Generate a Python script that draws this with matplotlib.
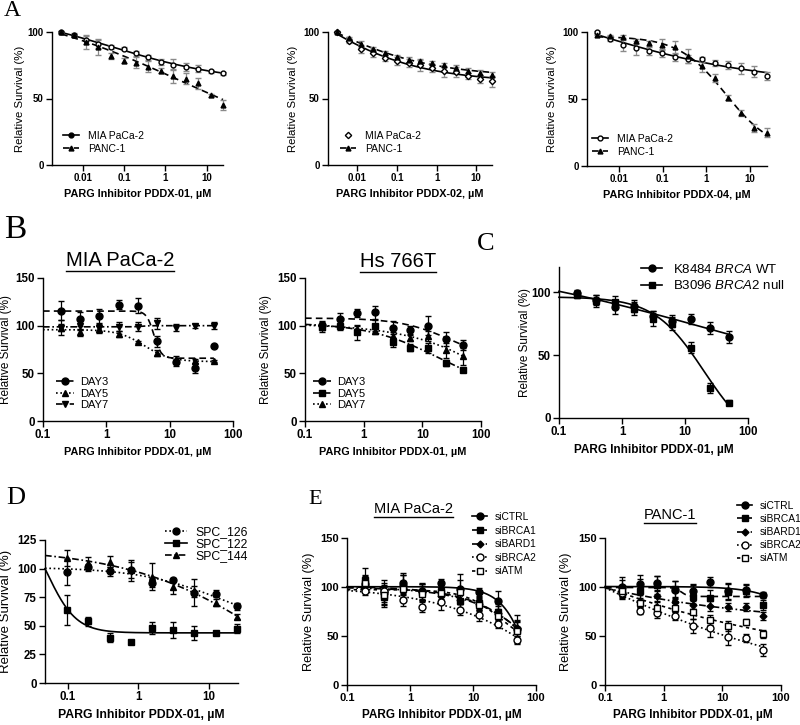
import numpy as np
import matplotlib
matplotlib.use('Agg')
import matplotlib.pyplot as plt
from matplotlib.lines import Line2D
from matplotlib.ticker import NullLocator

plt.rcParams['font.family'] = ['Liberation Sans', 'DejaVu Sans']
plt.rcParams['mathtext.fontset'] = 'custom'
plt.rcParams['mathtext.rm'] = 'Liberation Sans'
plt.rcParams['mathtext.it'] = 'Liberation Sans:italic'

# ---------------- data ----------------
# panel A doses (uM)
doses_a = [0.003, 0.006, 0.012, 0.024, 0.049, 0.098, 0.195, 0.39, 0.78, 1.56, 3.125, 6.25, 12.5, 25]
mia_a1 = [100, 97.5, 94, 91, 89, 87.5, 84, 81, 77.5, 75.5, 74, 72.5, 70.5, 69]
mia_a1_err = [0.5, 1, 3, 3, 1.5, 1, 2, 2, 2, 4, 3, 2.5, 1, 1]
panc_a1 = [100, 98, 92.5, 89, 82, 78.5, 77, 74, 71, 67, 65, 61.5, 52.5, 45]
panc_a1_err = [0.5, 1, 5, 6, 2, 2, 4, 4, 2, 5, 4, 4, 1, 4]
mia_a2 = [100, 93.5, 87, 84, 80.5, 78, 76.5, 75, 73, 70.5, 70, 67, 65, 63]
mia_a2_err = [0.5, 1.5, 3, 3, 2, 3, 3, 4, 3, 4, 4, 2, 3, 4]
panc_a2 = [100, 95.5, 91, 87, 84, 81, 79, 78, 77, 75.5, 73, 71, 69.5, 68]
panc_a2_err = [0.5, 1, 2, 2, 2, 2, 2, 2, 1.5, 1.5, 2, 2, 2, 2]
mia_a3 = [100, 95, 90.5, 88, 86, 84, 81.5, 79.5, 79.5, 77, 75.5, 73, 70.5, 67]
mia_a3_err = [0.5, 2, 5, 5, 3, 3, 3, 3, 2, 2, 3, 4, 4, 3]
panc_a3 = [98, 97, 96, 93, 91.5, 90.5, 88.5, 82, 74.5, 66, 51, 39.5, 28.5, 25]
panc_a3_err = [0.5, 1, 2, 2, 2, 4, 5, 5, 4, 3, 2, 2, 3, 3]

# panels B, C, E doses
doses_b = [0.195, 0.39, 0.78, 1.56, 3.125, 6.25, 12.5, 25, 50]
day3_b1 = [115.5, 107, 110, 122, 121, 83.5, 61.5, 55.5, 79]
day3_b1_err = [10, 7, 8, 5, 8, 6, 4, 5, 1]
day5_b1 = [98, 93, 96, 91, 83, 71, 65, 63, 63]
day5_b1_err = [4, 4, 4, 3, 1, 3, 3, 2, 1]
day7_b1 = [98, 100, 98, 99, 99, 102.5, 98, 99.5, 100]
day7_b1_err = [8, 5, 5, 5, 5, 6, 4, 2, 4]

day3_b2 = [101, 107, 113, 114, 98, 95, 100, 86, 79.5]
day3_b2_err = [3, 6, 4, 7, 7, 5, 10, 7, 5]
day5_b2 = [99, 100, 93, 100, 82.5, 77, 76.5, 61, 54]
day5_b2_err = [6, 5, 8, 6, 5, 4, 5, 3, 2]
day7_b2 = [99, 102, 97, 94, 89.5, 87.5, 89, 74, 68]
day7_b2_err = [3, 3, 3, 3, 4, 4, 5, 8, 9]

wt_c = [99, 94, 88, 89, 81, 77, 79, 71.5, 64.5]
wt_c_err = [3, 4, 5, 5, 4, 5, 4, 5, 5]
null_c = [98, 93, 92, 87, 79, 75, 56, 24, 12]
null_c_err = [3, 5, 5, 5, 6, 5, 4, 4, 2]

# panel D doses
doses_d = [0.098, 0.195, 0.39, 0.78, 1.56, 3.125, 6.25, 12.5, 25]
spc126 = [97, 101, 97.5, 99, 87.5, 90, 79, 78, 67]
spc126_err = [11, 3, 4, 7, 4, 2, 12, 3, 3]
spc122 = [63.5, 54, 39.5, 36, 48, 46.5, 44, 43.5, 47.5]
spc122_err = [13, 4, 4, 2, 5, 7, 6, 1, 4]
spc144 = [109, 105, 106, 98.5, 93, 84, 80, 70, 58]
spc144_err = [7, 5, 5, 9, 12, 6, 5, 3, 2]

# panel E
ctrl_e1 = [103, 95, 104, 96, 104, 98, 95, 86, 57]
ctrl_e1_err = [8, 12, 10, 8, 4, 15, 4, 10, 14]
brca1_e1 = [107, 90, 100, 95, 96, 86, 84, 75, 56]
brca1_e1_err = [12, 10, 12, 8, 6, 8, 6, 8, 8]
bard1_e1 = [101, 93, 102, 95, 91, 87, 83, 73, 58]
bard1_e1_err = [6, 8, 10, 8, 6, 8, 6, 8, 8]
brca2_e1 = [96, 96, 87, 80, 85, 77, 71, 62, 46]
brca2_e1_err = [4, 8, 6, 6, 8, 6, 6, 4, 4]
atm_e1 = [104, 92, 98, 93, 94, 95, 82, 70, 55]
atm_e1_err = [8, 10, 8, 8, 6, 12, 6, 8, 10]

ctrl_e2 = [100, 103, 104, 97, 96, 105, 96, 97, 92]
ctrl_e2_err = [10, 9, 7, 9, 7, 5, 8, 6, 3]
brca1_e2 = [99, 96, 102, 98, 90, 89, 95, 96, 82]
brca1_e2_err = [8, 12, 9, 8, 12, 8, 8, 6, 5]
bard1_e2 = [93, 86, 91, 85, 82, 81, 80, 80, 70]
bard1_e2_err = [5, 6, 5, 4, 4, 5, 4, 4, 4]
brca2_e2 = [94, 76, 73, 70, 60, 58, 49, 48, 36]
brca2_e2_err = [5, 4, 5, 4, 7, 9, 8, 4, 6]
atm_e2 = [96, 84, 79, 79, 75, 66, 60, 64, 52]
atm_e2_err = [5, 5, 6, 5, 8, 5, 5, 3, 4]

XLAB = 'PARG Inhibitor PDDX-%s, \u00b5M'
YLAB = 'Relative Survival (%)'

# ---------------- helpers ----------------
W, H = 800, 725
fig = plt.figure(figsize=(8, 7.25), dpi=100)


def box(l, t, r, b):
    return [l / W, 1 - b / H, (r - l) / W, (b - t) / H]


LOGEC = np.linspace(-4, 4, 161)
HILL = np.linspace(0.2, 8, 79)


def hill(x, top, bottom, ec50, h):
    return bottom + (top - bottom) / (1 + (x / ec50) ** h)


def fit_hill(x, y, top=None, anchor=None):
    # grid search over ec50/hill, linear least squares for top/bottom
    x = list(x)
    y = list(y)
    if anchor is not None:
        # untreated control (100 %) placed at the axis start, weighted
        x += [anchor[0]] * anchor[2]
        y += [anchor[1]] * anchor[2]
    x = np.asarray(x, float)
    y = np.asarray(y, float)
    le, hh = [g.ravel() for g in np.meshgrid(LOGEC, HILL)]
    s = 1.0 / (1.0 + (x[None, :] / 10.0 ** le[:, None]) ** hh[:, None])
    u = 1.0 - s
    if top is None:
        saa = (s * s).sum(1); sbb = (u * u).sum(1); sab = (s * u).sum(1)
        say = (s * y).sum(1); sby = (u * y).sum(1)
        det = saa * sbb - sab ** 2
        ok = det > 1e-9
        det = np.where(ok, det, 1)
        t = (say * sbb - sby * sab) / det
        b = (sby * saa - say * sab) / det
    else:
        sbb = (u * u).sum(1)
        ok = sbb > 1e-9
        t = np.full_like(le, top)
        b = ((y - top * s) * u).sum(1) / np.where(ok, sbb, 1)
    ok &= (np.abs(t) < 250) & (np.abs(b) < 250)
    sse = (((t[:, None] * s + b[:, None] * u) - y) ** 2).sum(1)
    sse = np.where(ok, sse, np.inf)
    i = np.argmin(sse)
    return t[i], b[i], 10 ** le[i], hh[i]


def setup(ax, xlim, xticks, xlabels, ylim, yticks, drug, tfs, xfs, yfs, ylx):
    ax.set_xscale('log')
    ax.set_xlim(xlim)
    ax.set_ylim(ylim)
    ax.set_xticks(xticks)
    ax.set_xticklabels(xlabels)
    ax.xaxis.set_minor_locator(NullLocator())
    ax.set_yticks(yticks)
    for s in ['top', 'right']:
        ax.spines[s].set_visible(False)
    for s in ['left', 'bottom']:
        ax.spines[s].set_linewidth(1.0)
    ax.tick_params(direction='out', length=4, width=1, labelsize=tfs, pad=2)
    for lbl in ax.get_xticklabels() + ax.get_yticklabels():
        lbl.set_fontweight('bold')
    ax.set_xlabel(XLAB % drug, fontsize=xfs, fontweight='bold', labelpad=4)
    ax.set_ylabel(YLAB, fontsize=yfs)
    ax.yaxis.set_label_coords(ylx, 0.5)


def series(ax, x, y, e, marker, mfc, ls, x0, ms=5, ecolor='k', top=None,
           anchor=None, lw=1.2):
    ax.errorbar(x, y, yerr=e, fmt=marker, ms=ms, mfc=mfc, mec='k', mew=1.0,
                color='k', ecolor=ecolor, elinewidth=0.9, capsize=2.2,
                capthick=0.9, clip_on=False, zorder=3)
    if ls is None:
        return
    p = fit_hill(x, y, top, anchor)
    xx = np.logspace(np.log10(x0), np.log10(x[-1]), 300)
    ax.plot(xx, hill(xx, *p), color='k', ls=ls, lw=lw, zorder=2, clip_on=False)


def handle(marker, mfc, ls, ms=5):
    return Line2D([], [], color='k', marker=marker, mfc=mfc, mec='k', ms=ms,
                  ls=ls if ls else 'none', lw=1.2)


def legend(ax, handles, labels, x, y, fs, sp=0.2, hl=2.0, tp=0.6):
    ax.legend(handles, labels, loc='upper left', bbox_to_anchor=(x / W, 1 - y / H),
              bbox_transform=fig.transFigure, frameon=False, fontsize=fs,
              labelspacing=sp, handlelength=hl, handletextpad=tp,
              borderpad=0, borderaxespad=0)


def letter(x, y, s, fs):
    fig.text(x / W, 1 - y / H, s, fontsize=fs, family='Liberation Serif',
             ha='left', va='top')


titles = []


def title_ul(x, y, s, fs):
    titles.append(fig.text(x / W, 1 - y / H, s, ha='center', va='center', fontsize=fs))


DASH = (0, (4, 2.5))
DOT = (0, (1, 1.6))
DASHDOT = (0, (4, 1.6, 1, 1.6))
GRAY = '#8a8a8a'

# ---------------- panel A ----------------
xl_a = (0.0018, 25)
xt_a = [0.01, 0.1, 1, 10]
xtl_a = ['0.01', '0.1', '1', '10']

ax = fig.add_axes(box(52, 32, 223, 165))
setup(ax, xl_a, xt_a, xtl_a, (0, 100), [0, 50, 100], '01', 7, 7.8, 8.2, -0.16)
series(ax, doses_a, mia_a1, mia_a1_err, 'o', 'white', '-', doses_a[0], ms=3.5, ecolor=GRAY)
series(ax, doses_a, panc_a1, panc_a1_err, '^', 'k', DASH, doses_a[0], ms=3.5, ecolor=GRAY)
legend(ax, [handle('o', 'k', '-', 3.5), handle('^', 'k', DASH, 3.5)],
       ['MIA PaCa-2', 'PANC-1'], 63, 131, 7.5, sp=0.25, hl=1.5, tp=0.9)

ax = fig.add_axes(box(328, 32, 492, 165))
setup(ax, xl_a, xt_a, xtl_a, (0, 100), [0, 50, 100], '02', 7, 7.8, 8.2, -0.18)
series(ax, doses_a, mia_a2, mia_a2_err, 'D', 'white', '-', doses_a[0], ms=3.2, ecolor=GRAY)
series(ax, doses_a, panc_a2, panc_a2_err, '^', 'k', DASH, doses_a[0], ms=3.5, ecolor=GRAY)
legend(ax, [handle('D', 'white', None, 3.2), handle('^', 'k', DASH, 3.5)],
       ['MIA PaCa-2', 'PANC-1'], 340, 131, 7.5, sp=0.25, hl=1.5, tp=0.9)

ax = fig.add_axes(box(587, 32, 767, 166))
setup(ax, xl_a, xt_a, xtl_a, (0, 100), [0, 50, 100], '04', 7, 7.8, 8.2, -0.165)
series(ax, doses_a, mia_a3, mia_a3_err, 'o', 'white', '-', doses_a[0], ms=3.5, ecolor=GRAY)
series(ax, doses_a, panc_a3, panc_a3_err, '^', 'k', DASH, doses_a[0], ms=3.5, ecolor=GRAY)
legend(ax, [handle('o', 'white', '-', 3.5), handle('^', 'k', DASH, 3.5)],
       ['MIA PaCa-2', 'PANC-1'], 592, 134, 7.5, sp=0.25, hl=1.5, tp=0.9)

# ---------------- panel B ----------------
xl_b = (0.1, 100)
xt_b = [0.1, 1, 10, 100]
xtl_b = ['0.1', '1', '10', '100']

ax = fig.add_axes(box(43, 278, 233, 421))
setup(ax, xl_b, xt_b, xtl_b, (0, 150), [0, 50, 100, 150], '01', 8.3, 7.8, 8.5, -0.165)
series(ax, doses_b, day3_b1, day3_b1_err, 'o', 'k', DASH, 0.1)
series(ax, doses_b, day5_b1, day5_b1_err, '^', 'k', DOT, 0.1)
series(ax, doses_b, day7_b1, day7_b1_err, 'v', 'k', DASHDOT, 0.1)
legend(ax, [handle('o', 'k', DASH), handle('^', 'k', DOT), handle('v', 'k', DASHDOT)],
       ['DAY3', 'DAY5', 'DAY7'], 56, 377, 8, sp=0.15, hl=1.6, tp=0.6)
title_ul(120, 261, 'MIA PaCa-2', 14.5)

ax = fig.add_axes(box(305, 278, 481, 421))
setup(ax, xl_b, xt_b, xtl_b, (0, 150), [0, 50, 100, 150], '01', 8.3, 7.8, 8.5, -0.19)
series(ax, doses_b, day3_b2, day3_b2_err, 'o', 'k', DASH, 0.1)
series(ax, doses_b, day5_b2, day5_b2_err, 's', 'k', DASHDOT, 0.1)
series(ax, doses_b, day7_b2, day7_b2_err, '^', 'k', DOT, 0.1)
legend(ax, [handle('o', 'k', DASHDOT), handle('s', 'k', DASH), handle('^', 'k', DOT)],
       ['DAY3', 'DAY5', 'DAY7'], 313, 377, 8, sp=0.15, hl=1.6, tp=0.6)
title_ul(398, 262, 'Hs 766T', 14.5)

# ---------------- panel C ----------------
ax = fig.add_axes(box(559, 267, 748, 418))
setup(ax, xl_b, xt_b, xtl_b, (0, 120), [0, 50, 100], '01', 8.3, 8.5, 8.5, -0.15)
series(ax, doses_b, wt_c, wt_c_err, 'o', 'k', '-', 0.1)
series(ax, doses_b, null_c, null_c_err, 's', 'k', '-', 0.1, anchor=(0.1, 97, 2))
legend(ax, [handle('o', 'k', '-'), handle('s', 'k', '-')],
       ['K8484 $\\mathit{BRCA}$ WT', 'B3096 $\\mathit{BRCA2}$ null'], 641, 263, 9.5,
       sp=0.25, hl=1.6, tp=0.8)

# ---------------- panel D ----------------
ax = fig.add_axes(box(45, 540, 238, 683))
setup(ax, (0.047, 26), [0.1, 1, 10], ['0.1', '1', '10'], (0, 125),
      [0, 25, 50, 75, 100, 125], '01', 8.3, 8.8, 9.5, -0.17)
series(ax, doses_d, spc126, spc126_err, 'o', 'k', DOT, 0.047)
series(ax, doses_d, spc122, spc122_err, 's', 'k', '-', 0.047, anchor=(0.047, 100, 3))
series(ax, doses_d, spc144, spc144_err, '^', 'k', DASHDOT, 0.047)
legend(ax, [handle('o', 'k', DOT), handle('s', 'k', '-'), handle('^', 'k', DASHDOT)],
       ['SPC_126', 'SPC_122', 'SPC_144'], 165, 526, 8.8, sp=0.0, hl=1.8, tp=0.7)

# ---------------- panel E ----------------
e_markers = [('o', 'k', '-', 5), ('s', 'k', DASH, 5), ('D', 'k', DASHDOT, 3.5),
             ('o', 'white', DOT, 5), ('s', 'white', (0, (2, 2)), 5)]
e_labels = ['siCTRL', 'siBRCA1', 'siBARD1', 'siBRCA2', 'siATM']

ax = fig.add_axes(box(347, 538, 536, 685))
setup(ax, xl_b, xt_b, xtl_b, (0, 150), [0, 50, 100, 150], '01', 8, 8.5, 9.2, -0.17)
e1 = [(ctrl_e1, ctrl_e1_err), (brca1_e1, brca1_e1_err), (bard1_e1, bard1_e1_err),
      (brca2_e1, brca2_e1_err), (atm_e1, atm_e1_err)]
for (vals, errs), (m, fc, ls, ms) in zip(e1, e_markers):
    series(ax, doses_b, vals, errs, m, fc, ls, 0.1, ms=ms)
legend(ax, [handle(m, fc, ls, ms) for m, fc, ls, ms in e_markers], e_labels,
       472, 512, 7.4, sp=0.35, hl=1.5, tp=0.7)
title_ul(413, 509, 'MIA PaCa-2', 10.5)

ax = fig.add_axes(box(605, 538, 781, 685))
setup(ax, xl_b, xt_b, xtl_b, (0, 150), [0, 50, 100, 150], '01', 8, 8.5, 9.2, -0.19)
e2 = [(ctrl_e2, ctrl_e2_err), (brca1_e2, brca1_e2_err), (bard1_e2, bard1_e2_err),
      (brca2_e2, brca2_e2_err), (atm_e2, atm_e2_err)]
for (vals, errs), (m, fc, ls, ms) in zip(e2, e_markers):
    series(ax, doses_b, vals, errs, m, fc, ls, 0.1, ms=ms, anchor=(0.1, 100, 4))
legend(ax, [handle(m, fc, ls, ms) for m, fc, ls, ms in e_markers], e_labels,
       737, 501, 7.4, sp=0.3, hl=1.5, tp=0.7)
title_ul(670, 515, 'PANC-1', 10.5)

# ---------------- letters ----------------
letter(4, 0, 'A', 17)
letter(4, 214, 'B', 24)
letter(477, 233, 'C', 19)
letter(6, 487, 'D', 19)
letter(308, 490, 'E', 16)

# underline the titles
fig.canvas.draw()
r = fig.canvas.get_renderer()
inv = fig.transFigure.inverted()
for t in titles:
    bb = t.get_window_extent(r)
    (x0, y0), (x1, _) = inv.transform([(bb.x0, bb.y0 - 0.5), (bb.x1, bb.y0)])
    fig.add_artist(Line2D([x0, x1], [y0, y0], color='k', lw=1.0,
                          transform=fig.transFigure))

fig.savefig('out.png', dpi=100)
